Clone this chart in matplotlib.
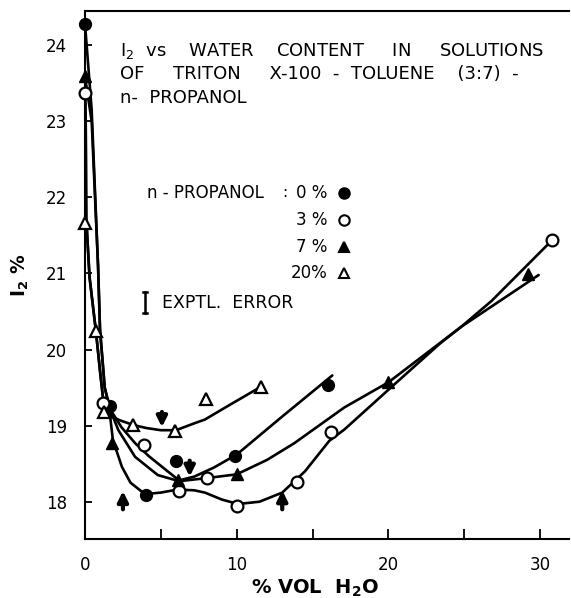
import matplotlib
matplotlib.use("Agg")
import matplotlib.pyplot as plt

plt.rcParams["font.family"] = "DejaVu Sans"
plt.rcParams["mathtext.default"] = "regular"

# measured points (x = % vol H2O, y = I2 %)
p0_x = [0.0, 1.64, 4.0, 6.0, 9.9, 16.0]
p0_y = [24.28, 19.26, 18.09, 18.54, 18.60, 19.54]
p3_x = [0.0, 1.19, 3.89, 6.2, 8.04, 10.0, 14.0, 16.2, 30.8]
p3_y = [23.37, 19.30, 18.75, 18.14, 18.31, 17.95, 18.26, 18.91, 21.44]
p7_x = [0.0, 1.78, 6.13, 10.0, 20.0, 29.2]
p7_y = [23.59, 18.77, 18.29, 18.37, 19.57, 20.99]
p20_x = [0.0, 0.72, 1.25, 3.16, 5.93, 7.98, 11.6]
p20_y = [21.66, 20.24, 19.18, 19.01, 18.93, 19.35, 19.51]

# hand-drawn curves
c0_x = [0.0, 0.44, 0.86, 0.99, 1.3, 1.64, 2.4, 3.3, 4.2, 5.07, 6.2, 7.2, 8.5, 10.0, 13.0, 16.3]
c0_y = [24.28, 23.15, 21.10, 20.26, 19.5, 19.22, 18.98, 18.77, 18.60, 18.46, 18.28, 18.33, 18.45, 18.62, 19.12, 19.66]
c7_x = [0.0, 0.44, 0.86, 0.99, 1.3, 1.64, 2.2, 3.3, 4.8, 6.2, 8.0, 10.0, 12.0, 13.8, 17.1, 20.0, 24.8, 29.9]
c7_y = [23.59, 23.0, 21.10, 20.26, 19.5, 19.22, 18.94, 18.59, 18.35, 18.27, 18.31, 18.36, 18.55, 18.77, 19.24, 19.57, 20.30, 20.98]
c3_x = [0.03, 0.07, 0.1, 0.3, 0.72, 1.0, 1.25, 1.64, 1.84, 2.43, 3.0, 3.95, 5.0, 6.1, 7.2, 7.9, 9.0, 10.07,
        11.5, 13.0, 14.5, 16.1, 17.1, 20.1, 23.4, 24.8, 26.8, 30.8]
c3_y = [23.37, 22.5, 21.66, 20.95, 20.24, 19.7, 19.25, 19.15, 18.81, 18.46, 18.25, 18.10, 18.12, 18.16, 18.15,
        18.12, 18.03, 17.97, 18.0, 18.12, 18.40, 18.80, 18.95, 19.49, 20.08, 20.30, 20.64, 21.44]
c20_x = [0.1, 0.3, 0.72, 1.0, 1.25, 1.64, 2.3, 3.16, 4.0, 5.0, 6.0, 7.2, 7.9, 9.6, 11.5]
c20_y = [21.66, 20.95, 20.24, 19.7, 19.25, 19.13, 19.07, 19.01, 18.97, 18.94, 18.94, 19.03, 19.08, 19.28, 19.5]

# arrows: (x, tail y, head y)
arrows = [(5.07, 19.18, 18.98), (6.9, 18.54, 18.33), (2.5, 17.90, 18.14), (13.0, 17.90, 18.15)]

key_labels = ["0 %", "3 %", "7 %", "20%"]

fig = plt.figure(figsize=(5.71, 5.98), dpi=100)
ax = fig.add_axes([85 / 571, 1 - 539 / 598, 484 / 571, 528 / 598])
ax.set_xlim(0, 31.9)
ax.set_ylim(17.51, 24.45)

line_kw = dict(color="black", lw=1.9, solid_capstyle="round", solid_joinstyle="round")
for cx, cy in [(c0_x, c0_y), (c7_x, c7_y), (c3_x, c3_y), (c20_x, c20_y)]:
    ax.plot(cx, cy, **line_kw)

ms = 8.5
ax.plot(p0_x, p0_y, "o", ms=ms, mfc="black", mec="black", clip_on=False, zorder=5)
ax.plot(p3_x, p3_y, "o", ms=ms, mfc="white", mec="black", mew=1.6, clip_on=False, zorder=5)
ax.plot(p7_x, p7_y, "^", ms=ms, mfc="black", mec="black", clip_on=False, zorder=5)
ax.plot(p20_x, p20_y, "^", ms=ms, mfc="white", mec="black", mew=1.6, clip_on=False, zorder=5)

for x, y0, y1 in arrows:
    ax.annotate("", xy=(x, y1), xytext=(x, y0),
                arrowprops=dict(arrowstyle="-|>", lw=3, color="black", mutation_scale=15,
                                shrinkA=0, shrinkB=0))

# title block
ax.text(2.3, 23.92, "I$_2$  vs    WATER    CONTENT     IN     SOLUTIONS", fontsize=13, va="center")
ax.text(2.3, 23.62, "OF     TRITON     X-100  -  TOLUENE    (3:7)  -", fontsize=13, va="center")
ax.text(2.3, 23.31, "n-  PROPANOL", fontsize=13, va="center")

# key
key_y = [22.06, 21.70, 21.35, 21.0]
key_mark = [("o", "black"), ("o", "white"), ("^", "black"), ("^", "white")]
ax.text(4.09, key_y[0], "n - PROPANOL", fontsize=12, va="center")
ax.text(13.15, key_y[0], ":", fontsize=11, ha="center", va="center")
for lab, y, (m, fc) in zip(key_labels, key_y, key_mark):
    ax.text(15.95, y, lab, fontsize=12, ha="right", va="center")
    ax.plot([17.07], [y], m, ms=7.5, mfc=fc, mec="black", mew=1.5)

# error bar
ax.plot([3.96, 3.96], [20.48, 20.76], color="black", lw=1.8)
ax.plot([3.85, 4.07], [20.76, 20.76], color="black", lw=1.8)
ax.plot([3.85, 4.07], [20.48, 20.48], color="black", lw=1.8)
ax.text(5.07, 20.61, "EXPTL.  ERROR", fontsize=12.5, va="center")

ax.spines["right"].set_visible(False)
for s in ["left", "bottom", "top"]:
    ax.spines[s].set_linewidth(1.5)

ax.set_xticks([0, 5, 10, 15, 20, 25, 30])
ax.set_xticklabels(["0", "", "10", "", "20", "", "30"])
ax.set_yticks([18, 19, 20, 21, 22, 23, 24])
ax.tick_params(direction="in", length=7, width=1.3, labelsize=12, pad=12)
ax.tick_params(axis="y", length=5, pad=13)

fig.text(20 / 571, 1 - 275 / 598, "I$_2$ %", rotation=90, fontsize=13.5, fontweight="bold",
         ha="center", va="center")
fig.text(315 / 571, 1 - 588 / 598, "% VOL  H$_2$O", fontsize=14, fontweight="bold",
         ha="center", va="center")

fig.savefig("out.png", dpi=100)
